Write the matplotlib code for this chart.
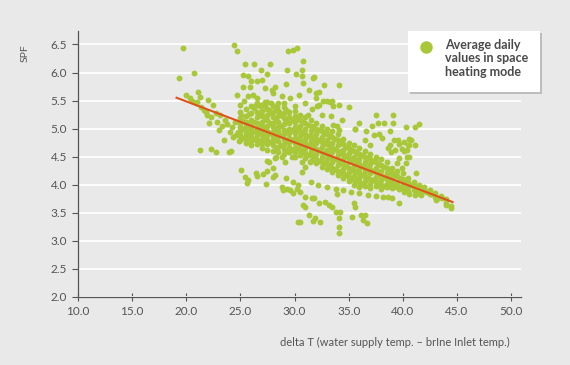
import matplotlib
matplotlib.use('Agg')
import matplotlib.pyplot as plt
from matplotlib.patches import Rectangle
from matplotlib.lines import Line2D

plt.rcParams['font.family'] = ['Lato', 'DejaVu Sans']

# upper-left outliers and the band below x=25
left_x = [19.7, 19.35, 20.7, 24.4, 24.7, 20.0, 21.1, 21.3, 22.0, 22.5, 21.6, 21.9, 23.1, 22.8, 23.8,
          24.0, 24.3, 24.8, 20.5, 20.9, 21.4, 21.8, 22.3, 22.7, 23.3, 23.6, 24.2, 24.6, 23.0, 22.1,
          21.3, 22.3, 22.7, 23.9, 24.1, 20.3, 21.0, 23.5, 24.5, 24.9]
left_y = [6.43, 5.91, 5.99, 6.49, 6.38, 5.60, 5.65, 5.56, 5.51, 5.42, 5.33, 5.24, 5.24, 5.12, 5.09,
          4.94, 4.85, 4.94, 5.50, 5.45, 5.38, 5.30, 5.20, 5.28, 5.05, 5.15, 5.02, 4.88, 4.98, 5.10,
          4.62, 4.64, 4.58, 4.58, 4.60, 5.55, 5.48, 4.80, 5.12, 4.78]

# dense core along the trend, one column of SPF values per delta T
core_cols = [
    (25.0, [5.30, 5.18, 5.10, 5.02, 4.95, 4.88, 4.80]),
    (25.5, [5.35, 5.22, 5.12, 5.05, 4.98, 4.90, 4.82, 4.75]),
    (26.0, [5.40, 5.28, 5.15, 5.08, 5.00, 4.92, 4.85, 4.78, 4.70]),
    (26.5, [5.45, 5.30, 5.20, 5.10, 5.02, 4.95, 4.88, 4.80, 4.72]),
    (27.0, [5.42, 5.32, 5.22, 5.12, 5.05, 4.98, 4.90, 4.82, 4.74, 4.65]),
    (27.5, [5.48, 5.35, 5.25, 5.15, 5.05, 4.95, 4.88, 4.80, 4.72, 4.62]),
    (28.0, [5.40, 5.30, 5.20, 5.10, 5.02, 4.94, 4.85, 4.78, 4.70, 4.60]),
    (28.5, [5.45, 5.32, 5.22, 5.12, 5.03, 4.95, 4.86, 4.78, 4.68, 4.58]),
    (29.0, [5.38, 5.28, 5.18, 5.08, 4.98, 4.90, 4.82, 4.72, 4.64, 4.55]),
    (29.5, [5.30, 5.20, 5.10, 5.00, 4.92, 4.84, 4.76, 4.68, 4.58]),
    (30.0, [5.32, 5.22, 5.12, 5.02, 4.92, 4.84, 4.75, 4.66, 4.58, 4.50]),
    (30.5, [5.25, 5.15, 5.05, 4.95, 4.86, 4.78, 4.70, 4.62, 4.52]),
    (31.0, [5.20, 5.10, 5.00, 4.90, 4.82, 4.74, 4.66, 4.56, 4.48]),
    (31.5, [5.15, 5.05, 4.95, 4.86, 4.78, 4.70, 4.60, 4.52, 4.42]),
    (32.0, [5.10, 5.00, 4.90, 4.82, 4.74, 4.64, 4.55, 4.46, 4.38]),
    (32.5, [5.05, 4.95, 4.85, 4.76, 4.68, 4.58, 4.50, 4.40, 4.32]),
    (33.0, [5.00, 4.90, 4.80, 4.72, 4.62, 4.54, 4.45, 4.36, 4.28]),
    (33.5, [4.95, 4.85, 4.75, 4.66, 4.58, 4.48, 4.40, 4.30, 4.22]),
    (34.0, [4.90, 4.80, 4.70, 4.60, 4.52, 4.44, 4.35, 4.25, 4.18]),
    (34.5, [4.82, 4.72, 4.62, 4.54, 4.45, 4.36, 4.28, 4.20, 4.12]),
    (35.0, [4.75, 4.65, 4.56, 4.48, 4.40, 4.30, 4.22, 4.14, 4.06]),
    (35.5, [4.70, 4.60, 4.50, 4.42, 4.34, 4.25, 4.16, 4.08, 4.00]),
    (36.0, [4.66, 4.55, 4.45, 4.36, 4.28, 4.20, 4.12, 4.04, 3.96]),
    (36.5, [4.60, 4.50, 4.40, 4.32, 4.24, 4.15, 4.06, 3.98]),
    (37.0, [4.55, 4.45, 4.36, 4.28, 4.20, 4.10, 4.02, 3.94]),
    (37.5, [4.50, 4.40, 4.30, 4.22, 4.14, 4.05, 3.98]),
    (38.0, [4.45, 4.35, 4.25, 4.16, 4.08, 4.00, 3.92]),
    (38.5, [4.40, 4.30, 4.20, 4.10, 4.02, 3.95]),
    (39.0, [4.30, 4.20, 4.10, 4.02, 3.94]),
    (39.5, [4.25, 4.15, 4.05, 3.97]),
    (40.0, [4.20, 4.10, 4.02, 3.94]),
    (40.5, [4.12, 4.04, 3.96, 3.88]),
    (41.0, [4.05, 3.98, 3.90]),
    (41.5, [4.00, 3.92, 3.85]),
    (42.0, [3.95, 3.88]),
    (42.5, [3.90, 3.84]),
    (43.0, [3.85, 3.78]),
    (43.5, [3.80]),
    (44.0, [3.75, 3.68]),
    (44.5, [3.62]),
    (25.25, [5.14, 4.99, 4.84]),
    (25.75, [5.26, 5.06, 4.90]),
    (26.25, [5.36, 5.12, 4.96, 4.81]),
    (26.75, [5.26, 5.06, 4.92, 4.76]),
    (27.25, [5.40, 5.18, 5.01, 4.86]),
    (27.75, [5.28, 5.10, 4.92, 4.76]),
    (28.25, [5.36, 5.15, 4.98, 4.82, 4.64]),
    (28.75, [5.24, 5.05, 4.88, 4.70]),
    (29.25, [5.33, 5.13, 4.94, 4.78, 4.60]),
    (29.75, [5.16, 4.97, 4.80, 4.62]),
    (30.25, [5.18, 4.98, 4.80, 4.64]),
    (30.75, [5.12, 4.92, 4.76, 4.58]),
    (31.25, [5.06, 4.87, 4.70, 4.53]),
    (31.75, [5.02, 4.84, 4.67, 4.49]),
    (32.25, [4.97, 4.79, 4.61, 4.43]),
    (32.75, [4.92, 4.74, 4.56, 4.38]),
    (33.25, [4.87, 4.69, 4.51, 4.33]),
    (33.75, [4.82, 4.63, 4.46, 4.28]),
    (34.25, [4.76, 4.57, 4.40, 4.22]),
    (34.75, [4.68, 4.51, 4.33, 4.17]),
    (35.25, [4.62, 4.45, 4.28, 4.11]),
    (35.75, [4.57, 4.39, 4.22, 4.06]),
    (36.25, [4.52, 4.34, 4.17, 4.01]),
    (36.75, [4.47, 4.30, 4.12]),
    (37.25, [4.42, 4.25, 4.08]),
    (37.75, [4.37, 4.19, 4.02]),
    (38.25, [4.32, 4.13, 3.97]),
    (38.75, [4.25, 4.06]),
    (39.25, [4.17, 3.99]),
    (39.75, [4.12, 3.95]),
    (40.25, [4.07, 3.91]),
    (40.75, [4.00]),
    (41.25, [3.95]),
    (42.25, [3.86]),
    (43.25, [3.76]),
]

# upper spread above the trend (x 25-35)
upper_x = [25.4, 26.3, 27.7, 29.4, 29.9, 30.2, 30.8, 29.3, 30.7, 30.1, 30.7, 31.7, 30.8, 31.3, 28.8,
           31.2, 25.2, 25.7, 27.5, 26.5, 27.0, 25.9, 25.2, 27.3, 28.0, 27.9, 25.7, 24.97, 26.5, 26.4,
           27.3, 27.8, 25.1, 28.4, 27.6, 26.2, 26.9, 29.0, 29.6, 30.0, 30.4, 31.0, 31.6, 32.5, 26.0,
           28.2, 31.8, 32.7, 34.1, 32.3, 32.0, 32.1, 32.3, 33.0, 33.3, 33.5, 34.1, 35.0, 33.4, 33.6,
           33.9, 34.1, 35.6, 34.4, 32.0, 32.6, 33.6, 29.2, 28.6, 24.7, 25.3, 26.8]
upper_y = [6.15, 6.15, 6.15, 6.38, 6.40, 6.43, 6.20, 6.04, 6.05, 5.97, 5.93, 5.90, 5.81, 5.69, 5.58,
           5.24, 5.95, 5.93, 5.98, 5.84, 5.86, 5.75, 5.75, 5.72, 5.63, 5.69, 5.58, 5.42, 5.54, 5.42,
           5.48, 5.45, 5.24, 5.38, 5.33, 5.60, 6.05, 5.45, 5.55, 5.40, 5.60, 5.45, 5.35, 5.25, 5.85,
           5.75, 5.92, 5.78, 5.78, 5.66, 5.54, 5.40, 5.42, 5.50, 5.48, 5.50, 5.42, 5.38, 5.22, 5.07,
           5.04, 4.98, 4.99, 5.15, 5.64, 5.50, 5.40, 5.80, 5.30, 5.60, 5.50, 5.40]

# right cluster above the trend (x 35-41)
right_x = [37.5, 39.1, 39.1, 38.8, 40.3, 41.1, 39.6, 40.8, 40.5, 40.1, 40.4, 41.1, 38.1, 38.6, 39.3,
           39.7, 37.2, 36.6, 37.8, 36.5, 38.3, 36.0, 35.6, 37.0, 40.6, 39.2, 39.9, 40.4, 40.6, 40.1,
           39.7, 38.8, 38.9, 39.5, 39.9, 40.3, 40.6, 41.2, 37.7, 37.3, 41.5]
right_y = [5.24, 5.25, 5.10, 4.95, 5.02, 5.02, 4.79, 4.79, 4.70, 4.60, 4.49, 4.70, 4.83, 4.66, 4.61,
           4.47, 5.05, 4.95, 4.90, 4.80, 5.10, 5.10, 5.00, 4.70, 4.82, 4.79, 4.64, 4.62, 4.70, 4.76,
           4.73, 4.70, 4.58, 4.38, 4.30, 4.38, 4.49, 4.20, 5.10, 4.88, 5.08]

# lower islands below the trend
lower_x = [25.1, 25.4, 25.7, 26.4, 26.5, 27.1, 27.5, 27.4, 28.0, 28.2, 29.2, 28.8, 28.95, 29.3, 29.6,
           29.9, 30.2, 29.9, 30.35, 30.5, 31.0, 31.6, 30.8, 31.0, 31.3, 30.5, 31.7, 27.5, 28.0, 29.1,
           28.2, 28.8, 29.8, 30.7, 31.0, 31.4, 30.7, 31.8, 32.3, 32.8, 33.2, 33.5, 33.9, 33.8, 34.2,
           31.9, 32.4, 35.3, 35.6, 35.5, 36.1, 36.5, 36.3, 36.7, 34.1, 34.1, 30.35, 27.6, 28.3, 25.6,
           31.5, 32.2, 33.0, 33.8, 34.5, 35.2, 36.0, 36.8, 37.5, 38.2, 38.6, 39.0, 39.7, 41.3, 42.2,
           42.6, 43.1, 43.6, 44.0, 44.5, 41.7, 41.1, 40.1, 40.6, 39.7, 39.2, 38.8, 38.5, 38.8, 34.1]
lower_y = [4.26, 4.13, 4.08, 4.20, 4.15, 4.19, 4.24, 4.02, 4.13, 4.17, 4.11, 3.96, 3.90, 3.93, 3.90,
           3.85, 3.93, 4.04, 3.99, 3.86, 3.78, 3.76, 3.63, 3.60, 3.46, 3.33, 3.36, 4.42, 4.30, 4.40,
           4.47, 4.50, 4.49, 4.40, 4.31, 4.40, 4.22, 3.76, 3.67, 3.69, 3.63, 3.60, 3.84, 3.51, 3.51,
           3.40, 3.33, 3.42, 3.60, 3.67, 3.46, 3.46, 3.37, 3.31, 3.25, 3.13, 3.33, 4.40, 4.49, 4.03,
           4.05, 4.00, 3.95, 3.92, 3.90, 3.87, 3.85, 3.82, 3.80, 3.78, 3.78, 3.76, 3.67, 3.90, 3.86,
           3.84, 3.72, 3.76, 3.63, 3.58, 3.81, 3.81, 3.86, 3.84, 3.93, 3.96, 4.02, 4.17, 4.11, 3.40]

# linear fit drawn in the chart
fit_x = [19.1, 44.6]
fit_y = [5.55, 3.69]

x_ticks = [10, 15, 20, 25, 30, 35, 40, 45, 50]
y_ticks = [2.0, 2.5, 3.0, 3.5, 4.0, 4.5, 5.0, 5.5, 6.0, 6.5]
legend_label = 'Average daily\nvalues in space\nheating mode'

core_x = [c[0] for c in core_cols for _ in c[1]]
core_y = [v for c in core_cols for v in c[1]]
all_x = left_x + core_x + upper_x + right_x + lower_x
all_y = left_y + core_y + upper_y + right_y + lower_y

bg = '#e9e9e9'
green = '#a8c83a'
grey = '#555555'

fig = plt.figure(figsize=(5.7, 3.65), dpi=100, facecolor=bg)
ax = fig.add_axes([0.137, 0.187, 0.7765, 0.728], facecolor=bg)

ax.scatter(all_x, all_y, s=18, c=green, linewidths=0, zorder=3)
ax.plot(fit_x, fit_y, c='#e0521b', lw=1.5, zorder=4)

ax.set_xlim(10, 50.9)
ax.set_ylim(2, 6.74)
ax.set_xticks(x_ticks)
ax.set_xticklabels(['%.1f' % v for v in x_ticks])
ax.set_yticks(y_ticks)
ax.set_yticklabels(['%.1f' % v for v in y_ticks])
ax.grid(axis='y', color='white', lw=1.3, zorder=1)
ax.set_axisbelow(True)

for s in ['top', 'right']:
    ax.spines[s].set_visible(False)
for s in ['left', 'bottom']:
    ax.spines[s].set_color(grey)
    ax.spines[s].set_linewidth(0.9)

ax.tick_params(axis='x', direction='inout', length=6, width=0.8, color=grey,
               labelcolor=grey, labelsize=8.5, pad=4)
ax.tick_params(axis='y', direction='out', length=4, width=0.8, color=grey,
               labelcolor=grey, labelsize=8.5, pad=4)

fig.text(25/570, 1-53/365, 'SPF', rotation=90, ha='center', va='center',
         color=grey, fontsize=7.5)
fig.text(510/570, 1-342/365, 'delta T (water supply temp. \u2013 brIne Inlet temp.)',
         ha='right', va='center', color=grey, fontsize=8)

# legend box with drop shadow
x0, y0, w, h = 407.7/570, 1-91.7/365, 132.3/570, 61/365
fig.patches.append(Rectangle((x0 + 2/570, y0 - 2/365), w, h, transform=fig.transFigure,
                             facecolor='#bdbdbd', edgecolor='none', zorder=5))
fig.patches.append(Rectangle((x0, y0), w, h, transform=fig.transFigure,
                             facecolor='white', edgecolor='none', zorder=6))
fig.lines.append(Line2D([426/570], [1-47/365], transform=fig.transFigure, marker='o',
                        markersize=9, color=green, markeredgewidth=0, zorder=7))
fig.text(445/570, 1-39/365, legend_label, ha='left', va='top', color='#4a4a4a',
         fontsize=9, fontweight='bold', linespacing=1.15, zorder=7)

fig.savefig('out.png', dpi=100, facecolor=bg)
